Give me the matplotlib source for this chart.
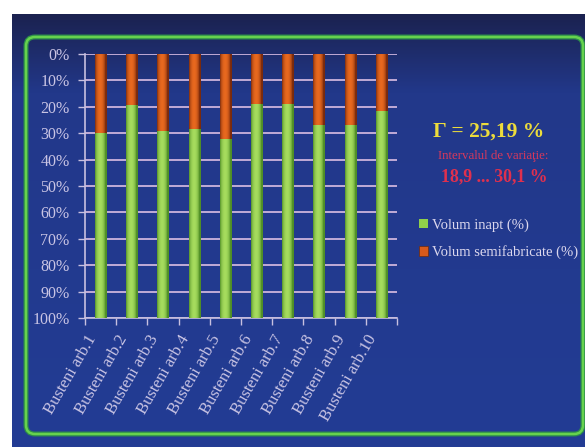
import numpy as np
import matplotlib.pyplot as plt
from matplotlib.patches import FancyBboxPatch, Patch
from matplotlib.colors import to_rgb
import matplotlib.transforms as mtransforms

plt.rcParams['font.family'] = ['Liberation Serif', 'DejaVu Serif']

# data (share of semifabricate volume, %)
labels = ['Busteni arb.1', 'Busteni arb.2', 'Busteni arb.3', 'Busteni arb.4',
          'Busteni arb.5', 'Busteni arb.6', 'Busteni arb.7', 'Busteni arb.8',
          'Busteni arb.9', 'Busteni arb.10']
semifabricate = np.array([30.0, 19.4, 29.0, 28.5, 32.1, 18.9, 18.9, 26.8, 26.8, 21.6])
inapt = 100 - semifabricate
yticks = np.arange(0, 101, 10)

W, H = 585, 447
fig = plt.figure(figsize=(W / 100, H / 100), dpi=100)
fig.patch.set_facecolor('white')

# background panel in pixel coords
bg = fig.add_axes([12 / W, 0, (W - 12) / W, (H - 14) / H], zorder=-5)
bg.set_xlim(12, W)
bg.set_ylim(H, 14)
bg.axis('off')
top = np.array(to_rgb('#1b2250'))
mid = np.array(to_rgb('#22388a'))
low = np.array(to_rgb('#233c94'))
ys = np.linspace(0, 1, 200)[:, None]
t1 = np.clip(ys / 0.18, 0, 1)
grad = top + (mid - top) * t1[..., None]
grad = grad + (low - mid) * np.clip((ys - 0.18) / 0.82, 0, 1)[..., None]
grad = np.repeat(grad, 2, axis=1)
bg.imshow(grad, extent=(12, W, H, 14), aspect='auto', zorder=0)
bg.add_patch(FancyBboxPatch((26, 37), 557, 397, boxstyle='round,pad=0,rounding_size=9',
                            fill=False, ec='#2c8a4c', lw=3.6, zorder=2))
bg.add_patch(FancyBboxPatch((26, 37), 557, 397, boxstyle='round,pad=0,rounding_size=9',
                            fill=False, ec='#66d24e', lw=1.8, zorder=3))

ax = fig.add_axes([85 / W, 1 - 318 / H, 312 / W, 264 / H])
ax.set_facecolor('none')
x = np.arange(len(labels))
bw = 0.36
red_bars = ax.bar(x, semifabricate, bw, color='#d85a1c', zorder=3)
green_bars = ax.bar(x, inapt, bw, bottom=semifabricate, color='#96d050', zorder=3)


def shade(bars, dark, light):
    d = np.array(to_rgb(dark))
    l = np.array(to_rgb(light))
    u = np.linspace(0, 1, 40)
    prof = np.sin(np.pi * np.clip(u * 1.15, 0, 1)) ** 0.6
    img = (d + (l - d) * prof[:, None])[None, :, :]
    for b in bars:
        x0, y0 = b.get_x(), b.get_y()
        im = ax.imshow(img, extent=(x0, x0 + b.get_width(), y0 + b.get_height(), y0),
                       aspect='auto', zorder=4)
        im.set_clip_path(b)


shade(red_bars, '#7a2a0c', '#e8691f')
shade(green_bars, '#4f8e26', '#a6dc5e')

ax.set_xlim(-0.5, len(labels) - 0.5)
ax.set_ylim(100, 0)
ax.set_yticks(yticks)
ax.set_yticklabels([f'{v}%' for v in yticks])
ax.yaxis.grid(True, color='#cdb4dc', lw=1.3, zorder=1)
ax.set_xticks(np.arange(len(labels) + 1) - 0.5)
ax.set_xticklabels([])
ax.set_xticks(x, minor=True)
ax.set_xticklabels(labels, minor=True, rotation=60, ha='right', va='top',
                   rotation_mode='anchor', fontsize=12, color='#c9c4e4')
ax.tick_params(axis='x', which='minor', length=0, pad=10)
ax.tick_params(axis='x', which='major', length=5, color='#c8c0e0', width=1)
ax.tick_params(axis='y', length=5, color='#c8c0e0', width=1, labelsize=11.5,
               labelcolor='#c9c4e4', pad=6)
off = mtransforms.ScaledTranslation(-15 / 100, 0, fig.dpi_scale_trans)
for lab in ax.xaxis.get_minorticklabels():
    lab.set_transform(lab.get_transform() + off)
for s in ['top', 'right']:
    ax.spines[s].set_visible(False)
for s in ['left', 'bottom']:
    ax.spines[s].set_color('#c8c0e0')
    ax.spines[s].set_linewidth(1.2)

fig.text(489 / W, 1 - 132 / H, 'Γ = 25,19 %', ha='center', va='center',
         fontsize=15.5, fontweight='bold', color='#ecdc3c')
fig.text(493 / W, 1 - 156 / H, 'Intervalul de variaţie:', ha='center', va='center',
         fontsize=9.3, color='#d8385c')
fig.text(494 / W, 1 - 177 / H, '18,9 ... 30,1 %', ha='center', va='center',
         fontsize=12.8, fontweight='bold', color='#e0304e')

handles = [Patch(fc='#8fd04a', ec='none'), Patch(fc='#d85a1c', ec='#6a2a10', lw=0.5)]
leg = fig.legend(handles, ['Volum inapt (%)', 'Volum semifabricate (%)'],
                 loc='upper left', bbox_to_anchor=(406 / W, 1 - 205 / H), frameon=False,
                 handlelength=0.6, handleheight=0.6, handletextpad=0.3,
                 labelspacing=0.95, fontsize=10.5, labelcolor='#dcd8ee')

fig.savefig('out.png', dpi=100)
